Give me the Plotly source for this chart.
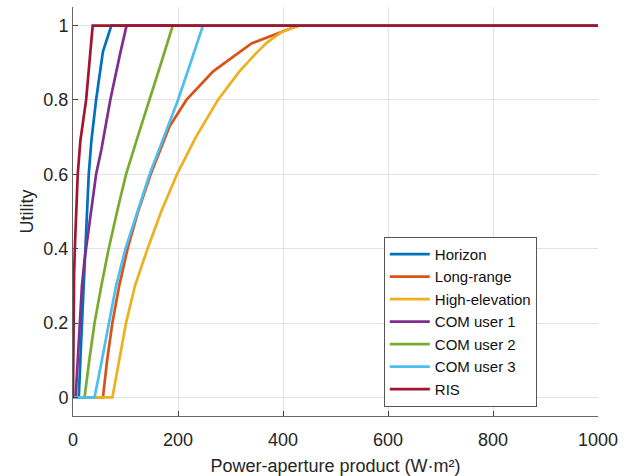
import plotly.graph_objects as go

# Utility versus power-aperture product for each sensing / communication task
horizon_x = [0, 11, 14, 17, 20, 23, 30, 35, 44, 57, 73, 1000]
horizon_u = [0, 0, 0.10, 0.20, 0.30, 0.40, 0.60, 0.69, 0.80, 0.93, 1, 1]

longrange_x = [0, 57, 65, 75, 88, 104, 124, 148, 184, 216, 267, 340, 429, 1000]
longrange_u = [0, 0, 0.10, 0.20, 0.30, 0.40, 0.50, 0.60, 0.729, 0.80, 0.877, 0.952, 1, 1]

highelev_x = [0, 75, 88, 101, 118, 142, 168, 198, 234, 276, 317, 349, 370, 400, 432, 1000]
highelev_u = [0, 0, 0.10, 0.20, 0.30, 0.40, 0.50, 0.60, 0.70, 0.80, 0.877, 0.926, 0.955, 0.985, 1, 1]

com1_x = [0, 5, 9, 13, 17, 22, 27, 35, 44, 54, 71, 90, 102, 1000]
com1_u = [0, 0, 0.10, 0.20, 0.30, 0.37, 0.42, 0.51, 0.60, 0.666, 0.80, 0.926, 1, 1]

com2_x = [0, 22, 31, 41, 54, 68, 84, 101, 123, 146, 168, 190, 1000]
com2_u = [0, 0, 0.10, 0.20, 0.30, 0.40, 0.50, 0.60, 0.70, 0.80, 0.90, 1, 1]

com3_x = [0, 41, 55, 68, 82, 100, 123, 146, 173, 200, 224, 247.5, 1000]
com3_u = [0, 0, 0.10, 0.20, 0.30, 0.40, 0.50, 0.60, 0.70, 0.80, 0.90, 1, 1]

ris_x = [0, 1, 2, 4, 9, 14, 20, 25, 37.5, 1000]
ris_u = [0, 0.20, 0.33, 0.42, 0.60, 0.69, 0.75, 0.80, 1, 1]

series = [
    ("Horizon", horizon_x, horizon_u, "#0072BD"),
    ("Long-range", longrange_x, longrange_u, "#D95319"),
    ("High-elevation", highelev_x, highelev_u, "#EDB120"),
    ("COM user 1", com1_x, com1_u, "#7E2F8E"),
    ("COM user 2", com2_x, com2_u, "#77AC30"),
    ("COM user 3", com3_x, com3_u, "#4DBEEE"),
    ("RIS", ris_x, ris_u, "#A2142F"),
]

x_ticks = [0, 200, 400, 600, 800, 1000]
y_ticks = [0, 0.2, 0.4, 0.6, 0.8, 1]
y_tick_text = ["0", "0.2", "0.4", "0.6", "0.8", "1"]

FONT = "Liberation Sans, Arial, sans-serif"

fig = go.Figure()
for name, xs, us, color in series:
    fig.add_trace(go.Scatter(
        x=xs, y=us, mode="lines", name=name,
        line=dict(color=color, width=2.7),
    ))

axis_common = dict(
    showgrid=True, gridcolor="#e3e3e3", gridwidth=1,
    zeroline=False, showline=True, linecolor="#666666", linewidth=1,
    ticks="inside", ticklen=5, tickcolor="#444444",
    tickfont=dict(family=FONT, size=18, color="#262626"),
    mirror=False, automargin=False,
)

fig.update_layout(
    width=639, height=476,
    margin=dict(l=73, r=41, t=7, b=60),
    paper_bgcolor="white", plot_bgcolor="white",
    font=dict(family=FONT, color="#262626"),
    xaxis=dict(
        range=[0, 1000], tickvals=x_ticks, ticklabelstandoff=7,
        title=dict(text="Power-aperture product (W·m²)",
                   font=dict(family=FONT, size=18, color="#262626")),
        **axis_common,
    ),
    yaxis=dict(
        range=[-0.05, 1.05], tickvals=y_ticks, ticktext=y_tick_text,
        title=dict(text="Utility", standoff=5,
                   font=dict(family=FONT, size=18, color="#262626")),
        **axis_common,
    ),
    legend=dict(
        x=0.592, y=0.438, xanchor="left", yanchor="top",
        bgcolor="white", bordercolor="#555555", borderwidth=1,
        font=dict(family=FONT, size=15, color="#111111"),
        tracegroupgap=0, itemwidth=40,
    ),
    showlegend=True,
)

fig.write_html("out.html")
